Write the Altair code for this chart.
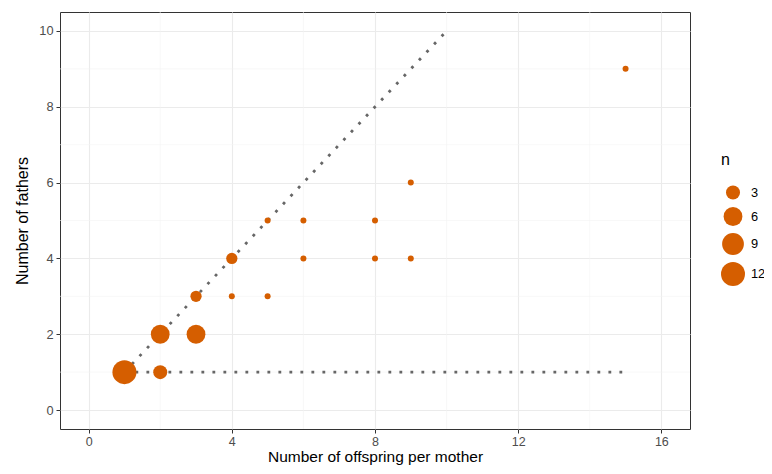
import altair as alt
import pandas as pd

offspring = [1, 2, 2, 3, 3, 4, 4, 5, 5, 6, 6, 8, 8, 9, 9, 15]
fathers = [1, 1, 2, 2, 3, 3, 4, 3, 5, 4, 5, 4, 5, 4, 6, 9]
counts = [12, 3, 6, 6, 2, 1, 2, 1, 1, 1, 1, 1, 1, 1, 1, 1]

diag_x = [1, 10]
diag_y = [1, 10]
horiz_x = [1, 15]
horiz_y = [1, 1]

x_major = [0, 4, 8, 12, 16]
x_minor = [2, 6, 10, 14]
y_major = [0, 2, 4, 6, 8, 10]
y_minor = [1, 3, 5, 7, 9]

pts = pd.DataFrame({"x": offspring, "y": fathers, "n": counts})
lines = pd.DataFrame({
    "x": diag_x + horiz_x,
    "y": diag_y + horiz_y,
    "g": ["diag", "diag", "horiz", "horiz"],
})

xs = alt.Scale(domain=[-0.8, 16.8], nice=False, zero=False)
ys = alt.Scale(domain=[-0.5, 10.5], nice=False, zero=False)

minor_grid_col = "#F4F4F4"

xminor = alt.Chart(pd.DataFrame({"v": x_minor})).mark_rule(
    color=minor_grid_col, strokeWidth=0.6
).encode(x=alt.X("v:Q", scale=xs))
yminor = alt.Chart(pd.DataFrame({"v": y_minor})).mark_rule(
    color=minor_grid_col, strokeWidth=0.6
).encode(y=alt.Y("v:Q", scale=ys))

line_layer = alt.Chart(lines).mark_line(
    color="#666666", strokeWidth=2.8, strokeDash=[2.8, 8.2], strokeCap="butt"
).encode(
    x=alt.X("x:Q", scale=xs),
    y=alt.Y("y:Q", scale=ys),
    detail="g:N",
)

points = alt.Chart(pts).mark_circle(color="#D55E00", opacity=1).encode(
    x=alt.X(
        "x:Q",
        scale=xs,
        title="Number of offspring per mother",
        axis=alt.Axis(values=x_major),
    ),
    y=alt.Y(
        "y:Q",
        scale=ys,
        title="Number of fathers",
        axis=alt.Axis(values=y_major),
    ),
    size=alt.Size(
        "n:Q",
        scale=alt.Scale(type="sqrt", domain=[1, 12], range=[36, 576], zero=False),
        legend=alt.Legend(
            title="n",
            values=[3, 6, 9, 12],
            orient="none",
            legendX=661,
            legendY=140,
            symbolFillColor="#D55E00",
            symbolStrokeWidth=0,
            symbolOpacity=1,
            titleFontSize=16,
            titleFontWeight="normal",
            titleColor="#000000",
            labelFontSize=12.8,
            labelColor="#000000",
            labelOffset=6,
            titlePadding=17,
            rowPadding=7,
        ),
    ),
)

chart = alt.layer(xminor, yminor, line_layer, points).properties(
    width=630,
    height=417,
    padding={"left": 52, "top": 4, "right": 74, "bottom": 37},
    autosize=alt.AutoSizeParams(type="none"),
).configure(
    font="Liberation Sans",
).configure_view(
    stroke="#333333",
    strokeWidth=1,
).configure_axis(
    grid=True,
    gridColor="#EBEBEB",
    gridWidth=1.1,
    domain=False,
    tickColor="#333333",
    tickSize=4,
    tickWidth=1,
    labelColor="#4D4D4D",
    labelFontSize=12.8,
    labelPadding=3,
    titleFontSize=16,
    titleFontWeight="normal",
    titleColor="#000000",
).configure_axisX(
    labelPadding=2,
    labelFontSize=12.5,
    titlePadding=2,
    titleFontSize=15.5,
).configure_axisY(
    titlePadding=8,
)

chart.save("out.html", embed_options={"renderer": "svg", "actions": False})
